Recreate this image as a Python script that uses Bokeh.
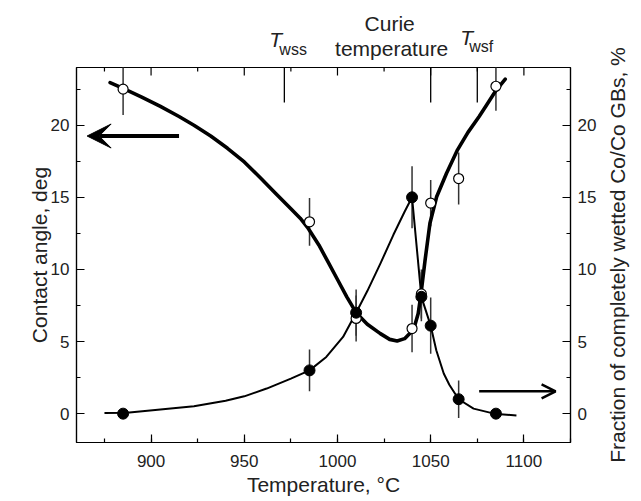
import math
from bokeh.plotting import figure
from bokeh.layouts import column, row
from bokeh.models import (Range1d, LinearAxis, SingleIntervalTicker, Arrow,
                          VeeHead, OpenHead)
from bokeh.core.properties import value
from bokeh.embed import file_html
from bokeh.resources import INLINE

# ---- data ----
temps = [885, 985, 1010, 1040, 1045, 1050, 1065, 1085]
angle = [22.5, 13.3, 6.6, 5.9, 8.3, 14.6, 16.3, 22.7]
angle_err = [1.8, 1.65, 1.6, 1.65, 1.7, 1.6, 1.8, 1.7]
frac = [0.0, 3.0, 7.0, 15.0, 8.1, 6.1, 1.0, 0.0]
frac_err = [0.0, 1.45, 1.6, 2.15, 1.7, 1.95, 1.3, 0.0]

# guide curves
angle_fit_t = [878, 885, 895, 905, 915, 923, 932, 941, 950, 959, 967, 975,
               980, 984, 990, 995, 1000, 1005, 1010, 1016, 1023, 1028, 1032,
               1036, 1039, 1041.5, 1043.3, 1044.6, 1047, 1049.6, 1053.2,
               1058.5, 1064.4, 1070, 1076, 1080, 1085, 1090]
angle_fit_v = [22.95, 22.55, 21.95, 21.3, 20.6, 20.0, 19.25, 18.4, 17.45, 16.3,
               15.25, 14.2, 13.55, 12.9, 11.7, 10.5, 9.3, 8.1, 7.0, 6.2, 5.55,
               5.15, 5.04, 5.2, 5.6, 6.13, 6.94, 8.1, 10.65, 13.2, 15.04,
               16.67, 18.29, 19.5, 20.6, 21.4, 22.4, 23.2]
frac_fit_t = [875, 887, 905, 923, 940, 950, 962, 975, 985, 994, 1003, 1010,
              1016, 1023, 1030, 1036, 1040, 1045, 1050, 1053, 1057, 1060,
              1065, 1073, 1084, 1096]
frac_fit_v = [0.05, 0.07, 0.28, 0.52, 0.9, 1.2, 1.74, 2.43, 3.0, 3.93, 5.32,
              7.0, 8.5, 10.4, 12.4, 14.0, 15.0, 8.1, 6.1, 4.4, 2.78, 2.0,
              1.0, 0.35, 0.0, -0.12]

special_t = [971.5, 1050, 1075]   # T_wss, Curie temperature, T_wsf
x_major = [900, 950, 1000, 1050, 1100]
x_minor = [875, 925, 975, 1025, 1075]

FONT = "Liberation Sans"
W, H = 641, 501
TOP_H = 65                      # strip above the box for the annotations
SIDE_W = 36                     # strip right of the box for the right title
MAIN_W, MAIN_H = W - SIDE_W, H - TOP_H
BL, BB, BT = 76, 59, 2
BR = MAIN_W - 570
Y0, Y1 = -2, 24
PPU = (MAIN_H - BT - BB) / (Y1 - Y0)     # pixels per value unit

xr = Range1d(860, 1125)

# ---------------- main chart ----------------
p = figure(width=MAIN_W, height=MAIN_H, x_range=xr, y_range=Range1d(Y0, Y1),
           output_backend="svg", toolbar_location=None,
           min_border_left=BL, min_border_right=BR,
           min_border_top=BT, min_border_bottom=BB)
p.extra_y_ranges = {"frac": Range1d(Y0, Y1)}
p.xgrid.visible = False
p.ygrid.visible = False
p.outline_line_color = "black"
p.outline_line_width = 1.2
p.background_fill_color = "white"
p.border_fill_color = "white"


def style(ax):
    ax.axis_line_color = "black"
    ax.axis_line_width = 1.2
    ax.major_tick_in = 8
    ax.major_tick_out = 0
    ax.minor_tick_in = 4
    ax.minor_tick_out = 0
    ax.major_tick_line_color = "black"
    ax.minor_tick_line_color = "black"
    ax.major_tick_line_width = 1.2
    ax.minor_tick_line_width = 1.2
    ax.major_label_text_font = FONT
    ax.major_label_text_font_size = "17px"
    ax.major_label_text_color = "#222222"
    ax.major_label_standoff = 7
    ax.axis_label_text_font = FONT
    ax.axis_label_text_font_size = "21px"
    ax.axis_label_text_font_style = "normal"
    ax.axis_label_text_color = "#222222"
    ax.axis_label_standoff = 4


xa = p.xaxis[0]
xa.ticker = SingleIntervalTicker(interval=50, num_minor_ticks=2)
xa.axis_label = "Temperature, °C"
style(xa)
xa.major_label_standoff = 12
xa.axis_label_standoff = 3

ya = p.yaxis[0]
ya.ticker = SingleIntervalTicker(interval=5, num_minor_ticks=2)
ya.axis_label = "Contact angle, deg"
style(ya)
ya.axis_label_standoff = -3

ra = LinearAxis(y_range_name="frac",
                ticker=SingleIntervalTicker(interval=5, num_minor_ticks=2))
style(ra)
p.add_layout(ra, "right")

# inward ticks on the top edge of the box
p.segment(x0=x_major, y0=[Y1] * 5, x1=x_major, y1=[Y1 - 8 / PPU] * 5,
          line_color="black", line_width=1.2)
p.segment(x0=x_minor, y0=[Y1] * 5, x1=x_minor, y1=[Y1 - 4 / PPU] * 5,
          line_color="black", line_width=1.2)

# special temperature markers at the top
p.segment(x0=special_t, y0=[Y1] * 3, x1=special_t, y1=[Y1 - 35 / PPU] * 3,
          line_color="black", line_width=1.3)

# error bars
p.segment(x0=temps, y0=[v - e for v, e in zip(angle, angle_err)],
          x1=temps, y1=[v + e for v, e in zip(angle, angle_err)],
          line_color="#333333", line_width=1.5)
p.segment(x0=temps, y0=[v - e for v, e in zip(frac, frac_err)],
          x1=temps, y1=[v + e for v, e in zip(frac, frac_err)],
          line_color="#333333", line_width=1.5, y_range_name="frac")

# guide curves
p.line(angle_fit_t, angle_fit_v, line_color="black", line_width=3.6,
       line_join="round", line_cap="round")
p.line(frac_fit_t, frac_fit_v, line_color="black", line_width=2.0,
       line_join="round", y_range_name="frac")

# points
p.scatter(temps, angle, marker="circle", size=10, fill_color="white",
          line_color="black", line_width=1.2)
p.scatter(temps, frac, marker="circle", size=11, fill_color="black",
          line_color="black", y_range_name="frac")

# arrows
p.add_layout(Arrow(end=VeeHead(size=24, fill_color="black", line_color="black"),
                   x_start=915, y_start=19.25, x_end=865.7, y_end=19.25,
                   line_width=4, line_color="black"))
p.add_layout(Arrow(end=OpenHead(size=14, line_width=2.5, line_color="black"),
                   x_start=1076, y_start=1.55, x_end=1117, y_end=1.55,
                   line_width=2.5, line_color="black", y_range_name="frac"))

# ---------------- annotation strip above the box ----------------
top = figure(width=MAIN_W, height=TOP_H, x_range=xr, y_range=Range1d(0, TOP_H),
             output_backend="svg", toolbar_location=None,
             x_axis_location=None, y_axis_location=None,
             min_border_left=BL, min_border_right=BR,
             min_border_top=0, min_border_bottom=0)
top.grid.visible = False
top.outline_line_color = None
top.background_fill_color = "white"
top.border_fill_color = "white"


def yt(px):
    """strip coordinate of a baseline given in pixels from the page top"""
    return TOP_H - px


top.text(x=[special_t[0], special_t[2]], y=[yt(39), yt(36.5)],
         text=["T", "T"], x_offset=[-15, -17],
         text_font=value(FONT), text_font_size=value("21px"),
         text_font_style="italic", text_color="#222222",
         text_align="left", text_baseline="alphabetic")
top.text(x=[special_t[0], special_t[2]], y=[yt(48.5), yt(46)],
         text=["wss", "wsf"], x_offset=[-5, -8],
         text_font=value(FONT), text_font_size=value("16px"),
         text_color="#222222", text_align="left", text_baseline="alphabetic")
top.text(x=[special_t[1], special_t[1]], y=[yt(22.5), yt(47.5)],
         text=["Curie", "temperature"], x_offset=[-41, -39],
         text_font=value(FONT), text_font_size=value("21px"),
         text_color="#222222", text_align="center", text_baseline="alphabetic")

# ---------------- strip right of the box: right-hand axis title -------------
side = figure(width=SIDE_W, height=H, x_range=Range1d(0, SIDE_W),
              y_range=Range1d(0, H), output_backend="svg",
              toolbar_location=None, x_axis_location=None,
              y_axis_location=None, min_border_left=0, min_border_right=0,
              min_border_top=0, min_border_bottom=0)
side.grid.visible = False
side.outline_line_color = None
side.background_fill_color = "white"
side.border_fill_color = "white"
box_mid = BB + (MAIN_H - BT - BB) / 2
side.text(x=[12], y=[box_mid], text=["Fraction of completely wetted Co/Co GBs, %"],
          angle=math.pi / 2, text_font=value(FONT),
          text_font_size=value("21px"), text_color="#222222",
          text_align="center", text_baseline="middle")

layout = row(column(top, p, spacing=0), side, spacing=0)
open("out.html", "w").write(file_html(layout, INLINE))
